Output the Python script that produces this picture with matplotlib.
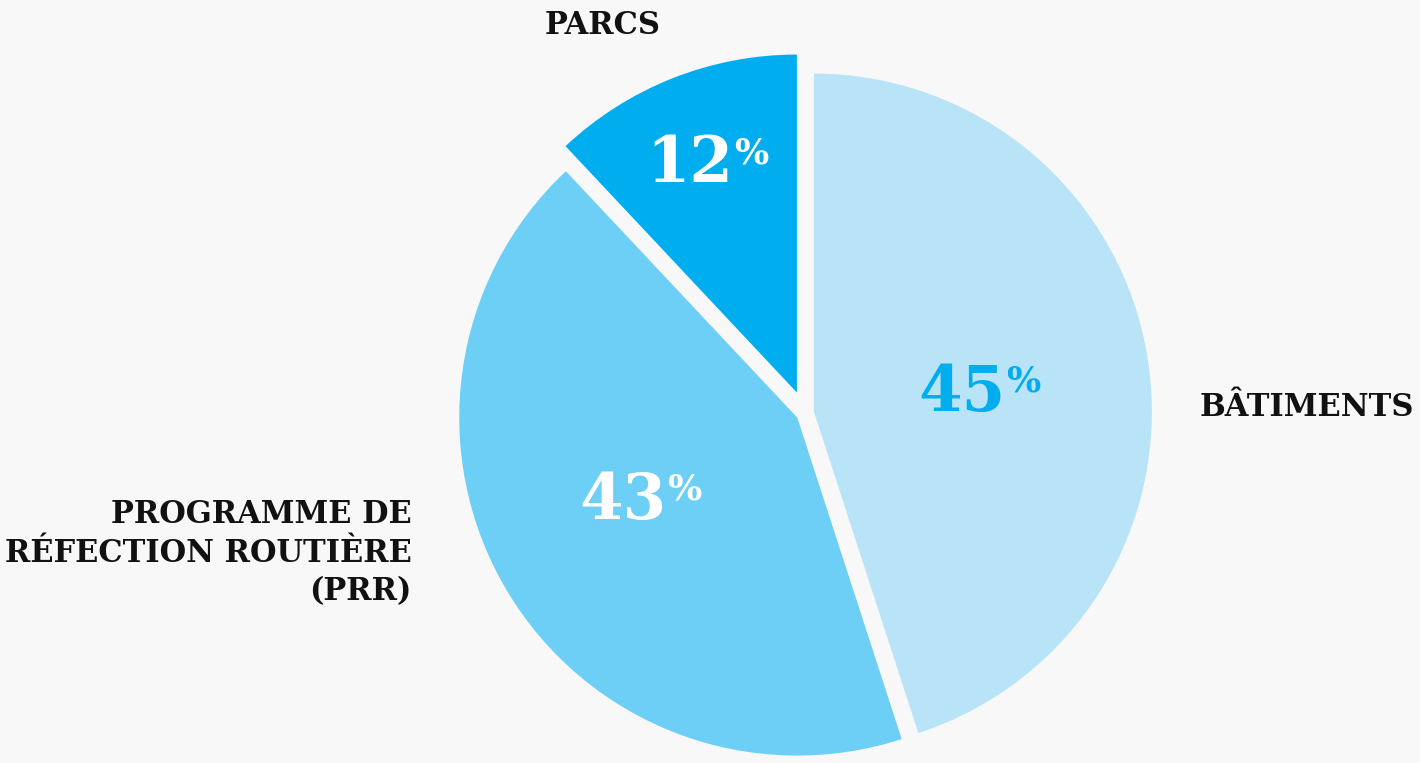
import matplotlib
matplotlib.use("Agg")
import matplotlib.pyplot as plt

categories = ["BÂTIMENTS", "PROGRAMME DE\nRÉFECTION ROUTIÈRE\n(PRR)", "PARCS"]
values = [45, 43, 12]
pct_labels = ["45", "43", "12"]
colors = ["#b9e4f8", "#6dcff6", "#00aeef"]
pct_colors = ["#00aeef", "white", "white"]

W, H = 1420, 763
fig = plt.figure(figsize=(W / 100, H / 100), dpi=100, facecolor="#f8f8f8")
ax = fig.add_axes([0, 0, 1, 1])

R = 338
cx, cy = 805, H - 413
explode = [9, 9, 22]  # data units (pixels)
ax.pie(values, colors=colors, startangle=90, counterclock=False,
       radius=R, center=(cx, cy), explode=explode, frame=True,
       wedgeprops=dict(linewidth=0))
ax.set_xlim(0, W)
ax.set_ylim(0, H)
ax.set_facecolor("#f8f8f8")
ax.axis("off")

font = dict(family="DejaVu Serif", fontweight="bold")
# percentage labels (number + superscript %)
pct_pos = [(962, 393), (623, 502), (690, 165)]
for lab, col, (x, y) in zip(pct_labels, pct_colors, pct_pos):
    ax.text(x, H - y, lab, color=col, fontsize=45, ha="center", va="center", **font)
    ax.text(x + 44, H - y + 12, "%", color=col, fontsize=26, ha="left", va="center", **font)

# category labels
ax.text(1200, H - 407, categories[0], fontsize=22, ha="left", va="center", color="#111111", **font)
ax.text(412, H - 553, categories[1], fontsize=22, ha="right", va="center", color="#111111",
        linespacing=1.3, **font)
ax.text(603, H - 25, categories[2], fontsize=22, ha="center", va="center", color="#111111", **font)

fig.savefig("out.png", dpi=100, facecolor=fig.get_facecolor())
